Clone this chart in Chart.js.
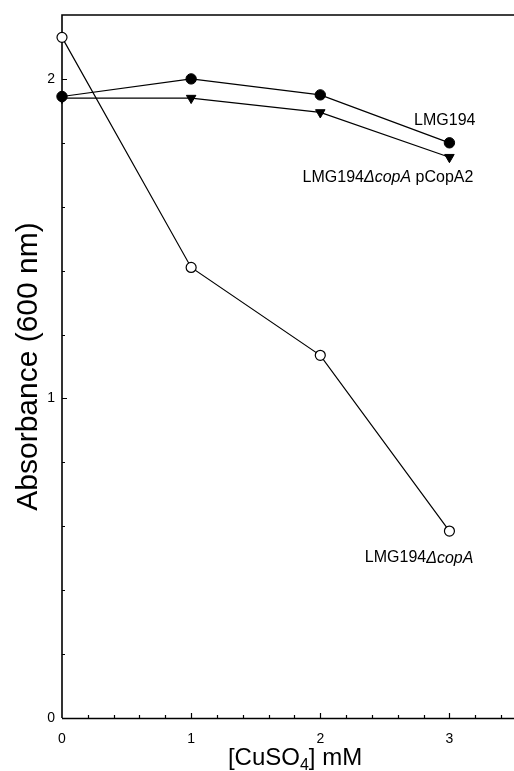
<!DOCTYPE html>
<html>
<head>
<meta charset="utf-8">
<script src="https://cdn.jsdelivr.net/npm/chart.js@4/dist/chart.umd.min.js"></script>
<style>
  html, body { margin: 0; padding: 0; background: #fff; }
  #wrap { width: 514px; height: 771px; position: relative; }
</style>
</head>
<body>
<div id="wrap"><canvas id="c" width="514" height="771"></canvas></div>
<script>
// CuSO4 concentrations (mM)
const concentrations = [0, 1, 2, 3];
// Absorbance at 600 nm for each strain
const lmg194 = [1.945, 2.0, 1.95, 1.80];
const lmg194CopAComplemented = [1.94, 1.94, 1.895, 1.755];
const lmg194DeltaCopA = [2.13, 1.41, 1.135, 0.585];

const FONT = '"Liberation Sans", Arial, Helvetica, sans-serif';

function points(values) {
  return concentrations.map((x, i) => ({ x: x, y: values[i] }));
}

// Draws a label made of plain and italic runs, right-aligned at x
function drawRuns(ctx, runs, rightX, y, size) {
  const widths = runs.map(r => {
    ctx.font = (r.italic ? 'italic ' : '') + size + 'px ' + FONT;
    return ctx.measureText(r.text).width;
  });
  let x = rightX - widths.reduce((a, b) => a + b, 0);
  runs.forEach((r, i) => {
    ctx.font = (r.italic ? 'italic ' : '') + size + 'px ' + FONT;
    ctx.fillText(r.text, x, y);
    x += widths[i];
  });
}

const frame = {
  id: 'frame',
  beforeDatasetsDraw(chart) {
    const { ctx, chartArea: a, scales: { x: xs, y: ys } } = chart;
    ctx.save();
    ctx.strokeStyle = '#000';
    // axis lines and top border
    ctx.lineWidth = 1.6;
    ctx.beginPath();
    ctx.moveTo(a.left, a.bottom + 0.5);
    ctx.lineTo(a.right, a.bottom + 0.5);
    ctx.moveTo(a.left, a.bottom);
    ctx.lineTo(a.left, a.top);
    ctx.lineTo(a.right, a.top);
    ctx.stroke();
    // inward tick marks
    ctx.lineWidth = 1.2;
    ctx.beginPath();
    for (let k = 1; k <= 17; k++) {
      const v = k * 0.2;
      const px = Math.round(xs.getPixelForValue(v)) + 0.5;
      const major = k % 5 === 0;
      ctx.moveTo(px, a.bottom);
      ctx.lineTo(px, a.bottom - (major ? 5 : 3));
    }
    for (let k = 1; k <= 10; k++) {
      const v = k * 0.2;
      const py = Math.round(ys.getPixelForValue(v)) + 0.5;
      const major = k % 5 === 0;
      ctx.moveTo(a.left, py);
      ctx.lineTo(a.left + (major ? 5 : 3), py);
    }
    ctx.stroke();
    ctx.restore();
  },
  afterDraw(chart) {
    const { ctx, chartArea: a, scales: { x: xs, y: ys } } = chart;
    ctx.save();
    ctx.fillStyle = '#000';
    ctx.textBaseline = 'middle';
    const x3 = xs.getPixelForValue(3);

    // series labels
    ctx.textAlign = 'left';
    drawRuns(ctx, [{ text: 'LMG194' }], x3 + 26,
      ys.getPixelForValue(lmg194[3]) - 22, 16);
    drawRuns(ctx, [{ text: 'LMG194' }, { text: '\u0394copA', italic: true }, { text: ' pCopA2' }],
      x3 + 24, ys.getPixelForValue(lmg194CopAComplemented[3]) + 20, 16);
    drawRuns(ctx, [{ text: 'LMG194' }, { text: '\u0394copA', italic: true }],
      x3 + 24, ys.getPixelForValue(lmg194DeltaCopA[3]) + 27, 16);

    // x-axis title with subscript
    ctx.textBaseline = 'alphabetic';
    const base = 765;
    const parts = [
      { t: '[CuSO', s: 24, dy: 0 },
      { t: '4', s: 16, dy: 5 },
      { t: '] mM', s: 24, dy: 0 }
    ];
    const ws = parts.map(p => { ctx.font = p.s + 'px ' + FONT; return ctx.measureText(p.t).width; });
    let x = (a.left + a.right) / 2 + 7 - ws.reduce((s, w) => s + w, 0) / 2;
    parts.forEach((p, i) => {
      ctx.font = p.s + 'px ' + FONT;
      ctx.fillText(p.t, x, base + p.dy);
      x += ws[i];
    });
    ctx.restore();
  }
};

function isInt(v) { return Math.abs(v - Math.round(v)) < 1e-6; }

new Chart(document.getElementById('c'), {
  type: 'line',
  data: {
    datasets: [
      {
        label: 'LMG194',
        data: points(lmg194),
        borderColor: '#000', borderWidth: 1.2,
        pointStyle: 'circle', pointRadius: 5.2,
        pointBackgroundColor: '#000', pointBorderColor: '#000', pointBorderWidth: 1,
        tension: 0, clip: false
      },
      {
        label: 'LMG194\u0394copA pCopA2',
        data: points(lmg194CopAComplemented),
        borderColor: '#000', borderWidth: 1.2,
        pointStyle: 'triangle', pointRotation: 180, pointRadius: 5.5,
        pointBackgroundColor: '#000', pointBorderColor: '#000', pointBorderWidth: 1,
        tension: 0, clip: false
      },
      {
        label: 'LMG194\u0394copA',
        data: points(lmg194DeltaCopA),
        borderColor: '#000', borderWidth: 1.2,
        pointStyle: 'circle', pointRadius: 5,
        pointBackgroundColor: '#fff', pointBorderColor: '#000', pointBorderWidth: 1.2,
        tension: 0, clip: false
      }
    ]
  },
  options: {
    responsive: false,
    animation: false,
    devicePixelRatio: 1,
    layout: { autoPadding: false, padding: { top: 15, right: 0, left: 0, bottom: 0 } },
    plugins: { legend: { display: false }, tooltip: { enabled: false } },
    scales: {
      x: {
        type: 'linear', min: 0, max: 3.5,
        grid: { display: false, drawTicks: false },
        border: { display: false },
        ticks: {
          stepSize: 0.2, autoSkip: false, maxRotation: 0, padding: 13,
          color: '#000', font: { family: FONT, size: 14 },
          callback: v => isInt(v) ? String(Math.round(v)) : ''
        },
        afterFit: s => { s.height = 53; s.paddingLeft = 0; s.paddingRight = 0; }
      },
      y: {
        type: 'linear', min: 0, max: 2.2,
        grid: { display: false, drawTicks: false },
        border: { display: false },
        ticks: {
          stepSize: 0.2, autoSkip: false, padding: 7,
          color: '#000', font: { family: FONT, size: 14 },
          callback: v => isInt(v) ? String(Math.round(v)) : ''
        },
        title: {
          display: true, text: 'Absorbance (600 nm)', color: '#000',
          font: { family: FONT, size: 30 }, padding: { top: 11, bottom: 0 }
        },
        afterFit: s => { s.width = 62; s.paddingTop = 0; s.paddingBottom = 0; }
      }
    }
  },
  plugins: [frame]
});
</script>
</body>
</html>
